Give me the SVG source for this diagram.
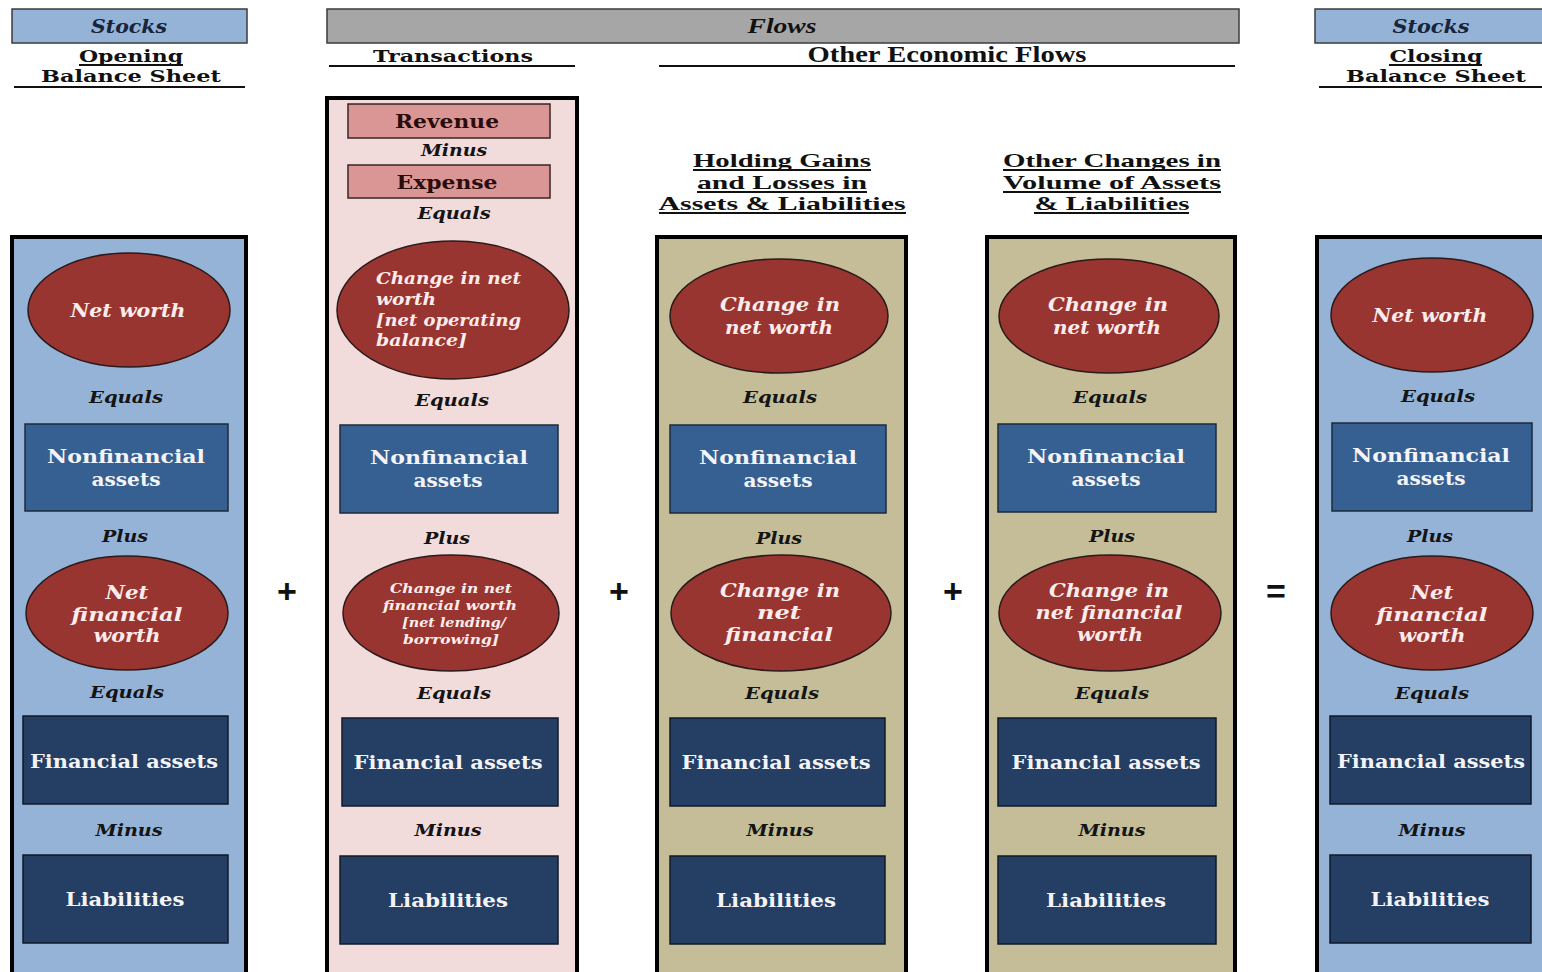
<svg xmlns="http://www.w3.org/2000/svg" width="1542" height="972" viewBox="0 0 1542 972">
  <style>
    .bg { fill: #ffffff; }
    .tag-stock { fill: #95b3d7; stroke: #3b3b3b; stroke-width: 1.5; }
    .tag-flow { fill: #a6a6a6; stroke: #3b3b3b; stroke-width: 1.5; }
    .tag-text { font-family: "DejaVu Serif", "Liberation Serif", serif; font-weight: bold; font-style: italic; font-size: 19px; fill: #17243a; text-anchor: middle; }
    .tag-text-t { font-family: "Liberation Serif", serif; font-weight: bold; font-style: italic; font-size: 22px; fill: #111; text-anchor: middle; }
    .head { font-family: "DejaVu Serif", "Liberation Serif", serif; font-weight: bold; font-size: 17px; fill: #111; text-anchor: middle; }
    .head-t { font-family: "Liberation Serif", serif; font-weight: bold; font-size: 19px; fill: #111; text-anchor: middle; }
    .head-w { font-family: "Liberation Serif", serif; font-weight: bold; font-size: 24px; fill: #111; text-anchor: middle; }
    .rule { stroke: #111; stroke-width: 2; }
    .panel { stroke: #000; stroke-width: 4; }
    .p-stock { fill: #95b3d7; }
    .p-trans { fill: #f2dcdb; }
    .p-other { fill: #c4bd97; }
    .oval { fill: #993531; stroke: #2a1a1a; stroke-width: 1.5; }
    .nonfin { fill: #366092; stroke: #1c2a3c; stroke-width: 1.5; }
    .fin { fill: #243f63; stroke: #111a28; stroke-width: 1.5; }
    .rev { fill: #d99694; stroke: #3a2424; stroke-width: 1.5; }
    .lbl { font-family: "DejaVu Serif", "Liberation Serif", serif; font-weight: bold; font-size: 19px; fill: #f4f4f8; text-anchor: middle; }
    .lbl-dark { font-family: "DejaVu Serif", "Liberation Serif", serif; font-weight: bold; font-size: 19px; fill: #2a0c0c; text-anchor: middle; }
    .oval-t { font-family: "DejaVu Serif", "Liberation Serif", serif; font-weight: bold; font-style: italic; font-size: 18px; fill: #fbecec; text-anchor: middle; }
    .oval-l { font-family: "DejaVu Serif", "Liberation Serif", serif; font-weight: bold; font-style: italic; font-size: 16px; fill: #fbecec; }
    .oval-s { font-family: "DejaVu Serif", "Liberation Serif", serif; font-weight: bold; font-style: italic; font-size: 13px; fill: #fbecec; text-anchor: middle; }
    .op-word { font-family: "DejaVu Serif", "Liberation Serif", serif; font-weight: bold; font-style: italic; font-size: 16px; fill: #141414; text-anchor: middle; }
    .op { font-family: "Liberation Sans", Arial, sans-serif; font-weight: bold; font-size: 34px; fill: #111; text-anchor: middle; }
  </style>

  <rect class="bg" x="0" y="0" width="1542" height="972"/>

  <!-- Header bands -->
  <g id="hdr-stocks-open">
    <rect class="tag-stock" x="12" y="9" width="235" height="34"/>
    <text class="tag-text" x="129" y="33" textLength="76" lengthAdjust="spacingAndGlyphs">Stocks</text>
  </g>
  <g id="hdr-flows">
    <rect class="tag-flow" x="327" y="9" width="912" height="34"/>
    <text class="tag-text-t" x="782" y="33" textLength="69" lengthAdjust="spacingAndGlyphs">Flows</text>
  </g>
  <g id="hdr-stocks-close">
    <rect class="tag-stock" x="1315" y="9" width="235" height="34"/>
    <text class="tag-text" x="1431" y="33" textLength="77" lengthAdjust="spacingAndGlyphs">Stocks</text>
  </g>

  <!-- Section titles -->
  <g id="title-opening">
    <text class="head" x="131" y="62" textLength="104" lengthAdjust="spacingAndGlyphs">Opening</text>
    <line class="rule" x1="79" y1="65" x2="183" y2="65"/>
    <text class="head" x="131" y="82" textLength="180" lengthAdjust="spacingAndGlyphs">Balance Sheet</text>
    <line class="rule" x1="14" y1="87" x2="245" y2="87"/>
  </g>
  <g id="title-transactions">
    <text class="head" x="453" y="62" textLength="160" lengthAdjust="spacingAndGlyphs">Transactions</text>
    <line class="rule" x1="329" y1="66" x2="575" y2="66"/>
  </g>
  <g id="title-oef">
    <text class="head-w" x="947" y="62" textLength="279" lengthAdjust="spacingAndGlyphs">Other Economic Flows</text>
    <line class="rule" x1="659" y1="66" x2="1235" y2="66"/>
  </g>
  <g id="title-closing">
    <text class="head" x="1436" y="62" textLength="93" lengthAdjust="spacingAndGlyphs">Closing</text>
    <line class="rule" x1="1389" y1="65" x2="1482" y2="65"/>
    <text class="head" x="1436" y="82" textLength="180" lengthAdjust="spacingAndGlyphs">Balance Sheet</text>
    <line class="rule" x1="1319" y1="87" x2="1542" y2="87"/>
  </g>
  <g id="title-holding">
    <text class="head-t" x="782" y="167" textLength="178" lengthAdjust="spacingAndGlyphs">Holding Gains</text>
    <line class="rule" x1="693" y1="170" x2="871" y2="170"/>
    <text class="head-t" x="782" y="189" textLength="170" lengthAdjust="spacingAndGlyphs">and Losses in</text>
    <line class="rule" x1="697" y1="192" x2="867" y2="192"/>
    <text class="head-t" x="782" y="210" textLength="247" lengthAdjust="spacingAndGlyphs">Assets &amp; Liabilities</text>
    <line class="rule" x1="659" y1="213" x2="906" y2="213"/>
  </g>
  <g id="title-volume">
    <text class="head-t" x="1112" y="167" textLength="218" lengthAdjust="spacingAndGlyphs">Other Changes in</text>
    <line class="rule" x1="1003" y1="170" x2="1221" y2="170"/>
    <text class="head-t" x="1112" y="189" textLength="218" lengthAdjust="spacingAndGlyphs">Volume of Assets</text>
    <line class="rule" x1="1003" y1="192" x2="1221" y2="192"/>
    <text class="head-t" x="1112" y="210" textLength="155" lengthAdjust="spacingAndGlyphs">&amp; Liabilities</text>
    <line class="rule" x1="1034" y1="213" x2="1189" y2="213"/>
  </g>

  <!-- Column 1: opening balance sheet -->
  <g id="col-opening">
    <rect class="panel p-stock" x="12" y="237" width="234" height="745"/>
    <ellipse class="oval" cx="129" cy="310" rx="101" ry="57"/>
    <text class="oval-t" x="128" y="317" textLength="115" lengthAdjust="spacingAndGlyphs">Net worth</text>
    <text class="op-word" x="126" y="403" textLength="74" lengthAdjust="spacingAndGlyphs">Equals</text>
    <rect class="nonfin" x="25" y="424" width="203" height="87"/>
    <text class="lbl" x="126" y="463" textLength="158" lengthAdjust="spacingAndGlyphs">Nonfinancial</text>
    <text class="lbl" x="126" y="486" textLength="69" lengthAdjust="spacingAndGlyphs">assets</text>
    <text class="op-word" x="125" y="542" textLength="46" lengthAdjust="spacingAndGlyphs">Plus</text>
    <ellipse class="oval" cx="127" cy="613" rx="101" ry="57"/>
    <text class="oval-t" x="127" y="599" textLength="43" lengthAdjust="spacingAndGlyphs">Net</text>
    <text class="oval-t" x="127" y="621" textLength="111" lengthAdjust="spacingAndGlyphs">financial</text>
    <text class="oval-t" x="127" y="642" textLength="67" lengthAdjust="spacingAndGlyphs">worth</text>
    <text class="op-word" x="127" y="698" textLength="74" lengthAdjust="spacingAndGlyphs">Equals</text>
    <rect class="fin" x="23" y="716" width="205" height="88"/>
    <text class="lbl" x="124" y="768" textLength="188" lengthAdjust="spacingAndGlyphs">Financial assets</text>
    <text class="op-word" x="129" y="836" textLength="67" lengthAdjust="spacingAndGlyphs">Minus</text>
    <rect class="fin" x="23" y="855" width="205" height="88"/>
    <text class="lbl" x="125" y="906" textLength="119" lengthAdjust="spacingAndGlyphs">Liabilities</text>
  </g>

  <!-- Column 2: transactions -->
  <g id="col-transactions">
    <rect class="panel p-trans" x="327" y="98" width="250" height="884"/>
    <rect class="rev" x="348" y="104" width="202" height="34"/>
    <text class="lbl-dark" x="447" y="128" textLength="104" lengthAdjust="spacingAndGlyphs">Revenue</text>
    <text class="op-word" x="454" y="156" textLength="66" lengthAdjust="spacingAndGlyphs">Minus</text>
    <rect class="rev" x="348" y="165" width="202" height="33"/>
    <text class="lbl-dark" x="447" y="189" textLength="101" lengthAdjust="spacingAndGlyphs">Expense</text>
    <text class="op-word" x="454" y="219" textLength="73" lengthAdjust="spacingAndGlyphs">Equals</text>
    <ellipse class="oval" cx="453" cy="310" rx="116" ry="69"/>
    <text class="oval-l" x="376" y="284" textLength="145" lengthAdjust="spacingAndGlyphs">Change in net</text>
    <text class="oval-l" x="376" y="305" textLength="60" lengthAdjust="spacingAndGlyphs">worth</text>
    <text class="oval-l" x="376" y="326" textLength="145" lengthAdjust="spacingAndGlyphs">[net operating</text>
    <text class="oval-l" x="376" y="346" textLength="91" lengthAdjust="spacingAndGlyphs">balance]</text>
    <text class="op-word" x="452" y="406" textLength="74" lengthAdjust="spacingAndGlyphs">Equals</text>
    <rect class="nonfin" x="340" y="425" width="218" height="88"/>
    <text class="lbl" x="449" y="464" textLength="158" lengthAdjust="spacingAndGlyphs">Nonfinancial</text>
    <text class="lbl" x="448" y="487" textLength="69" lengthAdjust="spacingAndGlyphs">assets</text>
    <text class="op-word" x="447" y="544" textLength="46" lengthAdjust="spacingAndGlyphs">Plus</text>
    <ellipse class="oval" cx="451" cy="613" rx="108" ry="58"/>
    <text class="oval-s" x="451" y="593" textLength="122" lengthAdjust="spacingAndGlyphs">Change in net</text>
    <text class="oval-s" x="450" y="610" textLength="134" lengthAdjust="spacingAndGlyphs">financial worth</text>
    <text class="oval-s" x="454" y="627" textLength="104" lengthAdjust="spacingAndGlyphs">[net lending/</text>
    <text class="oval-s" x="451" y="644" textLength="96" lengthAdjust="spacingAndGlyphs">borrowing]</text>
    <text class="op-word" x="454" y="699" textLength="74" lengthAdjust="spacingAndGlyphs">Equals</text>
    <rect class="fin" x="342" y="718" width="216" height="88"/>
    <text class="lbl" x="448" y="769" textLength="189" lengthAdjust="spacingAndGlyphs">Financial assets</text>
    <text class="op-word" x="448" y="836" textLength="67" lengthAdjust="spacingAndGlyphs">Minus</text>
    <rect class="fin" x="340" y="856" width="218" height="88"/>
    <text class="lbl" x="448" y="907" textLength="120" lengthAdjust="spacingAndGlyphs">Liabilities</text>
  </g>

  <!-- Column 3: holding gains and losses -->
  <g id="col-holding">
    <rect class="panel p-other" x="657" y="237" width="249" height="745"/>
    <ellipse class="oval" cx="779" cy="316" rx="109" ry="57"/>
    <text class="oval-t" x="780" y="311" textLength="120" lengthAdjust="spacingAndGlyphs">Change in</text>
    <text class="oval-t" x="779" y="334" textLength="108" lengthAdjust="spacingAndGlyphs">net worth</text>
    <text class="op-word" x="780" y="403" textLength="74" lengthAdjust="spacingAndGlyphs">Equals</text>
    <rect class="nonfin" x="670" y="425" width="216" height="88"/>
    <text class="lbl" x="778" y="464" textLength="158" lengthAdjust="spacingAndGlyphs">Nonfinancial</text>
    <text class="lbl" x="778" y="487" textLength="69" lengthAdjust="spacingAndGlyphs">assets</text>
    <text class="op-word" x="779" y="544" textLength="46" lengthAdjust="spacingAndGlyphs">Plus</text>
    <ellipse class="oval" cx="781" cy="613" rx="110" ry="58"/>
    <text class="oval-t" x="780" y="597" textLength="120" lengthAdjust="spacingAndGlyphs">Change in</text>
    <text class="oval-t" x="779" y="619" textLength="44" lengthAdjust="spacingAndGlyphs">net</text>
    <text class="oval-t" x="779" y="641" textLength="108" lengthAdjust="spacingAndGlyphs">financial</text>
    <text class="op-word" x="782" y="699" textLength="74" lengthAdjust="spacingAndGlyphs">Equals</text>
    <rect class="fin" x="670" y="718" width="215" height="88"/>
    <text class="lbl" x="776" y="769" textLength="189" lengthAdjust="spacingAndGlyphs">Financial assets</text>
    <text class="op-word" x="780" y="836" textLength="67" lengthAdjust="spacingAndGlyphs">Minus</text>
    <rect class="fin" x="670" y="856" width="215" height="88"/>
    <text class="lbl" x="776" y="907" textLength="120" lengthAdjust="spacingAndGlyphs">Liabilities</text>
  </g>

  <!-- Column 4: other changes in volume -->
  <g id="col-volume">
    <rect class="panel p-other" x="987" y="237" width="248" height="745"/>
    <ellipse class="oval" cx="1109" cy="316" rx="110" ry="57"/>
    <text class="oval-t" x="1108" y="311" textLength="120" lengthAdjust="spacingAndGlyphs">Change in</text>
    <text class="oval-t" x="1107" y="334" textLength="108" lengthAdjust="spacingAndGlyphs">net worth</text>
    <text class="op-word" x="1110" y="403" textLength="74" lengthAdjust="spacingAndGlyphs">Equals</text>
    <rect class="nonfin" x="998" y="424" width="218" height="88"/>
    <text class="lbl" x="1106" y="463" textLength="158" lengthAdjust="spacingAndGlyphs">Nonfinancial</text>
    <text class="lbl" x="1106" y="486" textLength="69" lengthAdjust="spacingAndGlyphs">assets</text>
    <text class="op-word" x="1112" y="542" textLength="46" lengthAdjust="spacingAndGlyphs">Plus</text>
    <ellipse class="oval" cx="1110" cy="613" rx="111" ry="58"/>
    <text class="oval-t" x="1109" y="597" textLength="120" lengthAdjust="spacingAndGlyphs">Change in</text>
    <text class="oval-t" x="1109" y="619" textLength="147" lengthAdjust="spacingAndGlyphs">net financial</text>
    <text class="oval-t" x="1110" y="641" textLength="66" lengthAdjust="spacingAndGlyphs">worth</text>
    <text class="op-word" x="1112" y="699" textLength="74" lengthAdjust="spacingAndGlyphs">Equals</text>
    <rect class="fin" x="998" y="718" width="218" height="88"/>
    <text class="lbl" x="1106" y="769" textLength="189" lengthAdjust="spacingAndGlyphs">Financial assets</text>
    <text class="op-word" x="1112" y="836" textLength="67" lengthAdjust="spacingAndGlyphs">Minus</text>
    <rect class="fin" x="998" y="856" width="218" height="88"/>
    <text class="lbl" x="1106" y="907" textLength="120" lengthAdjust="spacingAndGlyphs">Liabilities</text>
  </g>

  <!-- Column 5: closing balance sheet -->
  <g id="col-closing">
    <rect class="panel p-stock" x="1317" y="237" width="240" height="745"/>
    <ellipse class="oval" cx="1432" cy="315" rx="101" ry="57"/>
    <text class="oval-t" x="1430" y="322" textLength="115" lengthAdjust="spacingAndGlyphs">Net worth</text>
    <text class="op-word" x="1438" y="402" textLength="74" lengthAdjust="spacingAndGlyphs">Equals</text>
    <rect class="nonfin" x="1332" y="423" width="200" height="88"/>
    <text class="lbl" x="1431" y="462" textLength="158" lengthAdjust="spacingAndGlyphs">Nonfinancial</text>
    <text class="lbl" x="1431" y="485" textLength="69" lengthAdjust="spacingAndGlyphs">assets</text>
    <text class="op-word" x="1430" y="542" textLength="46" lengthAdjust="spacingAndGlyphs">Plus</text>
    <ellipse class="oval" cx="1432" cy="613" rx="101" ry="57"/>
    <text class="oval-t" x="1432" y="599" textLength="43" lengthAdjust="spacingAndGlyphs">Net</text>
    <text class="oval-t" x="1432" y="621" textLength="111" lengthAdjust="spacingAndGlyphs">financial</text>
    <text class="oval-t" x="1432" y="642" textLength="67" lengthAdjust="spacingAndGlyphs">worth</text>
    <text class="op-word" x="1432" y="699" textLength="74" lengthAdjust="spacingAndGlyphs">Equals</text>
    <rect class="fin" x="1330" y="716" width="201" height="88"/>
    <text class="lbl" x="1431" y="768" textLength="188" lengthAdjust="spacingAndGlyphs">Financial assets</text>
    <text class="op-word" x="1432" y="836" textLength="67" lengthAdjust="spacingAndGlyphs">Minus</text>
    <rect class="fin" x="1330" y="855" width="201" height="88"/>
    <text class="lbl" x="1430" y="906" textLength="119" lengthAdjust="spacingAndGlyphs">Liabilities</text>
  </g>

  <!-- Operators between the columns -->
  <g id="connectors">
    <text class="op" x="287" y="603">+</text>
    <text class="op" x="619" y="603">+</text>
    <text class="op" x="953" y="603">+</text>
    <text class="op" x="1276" y="603">=</text>
  </g>
</svg>
